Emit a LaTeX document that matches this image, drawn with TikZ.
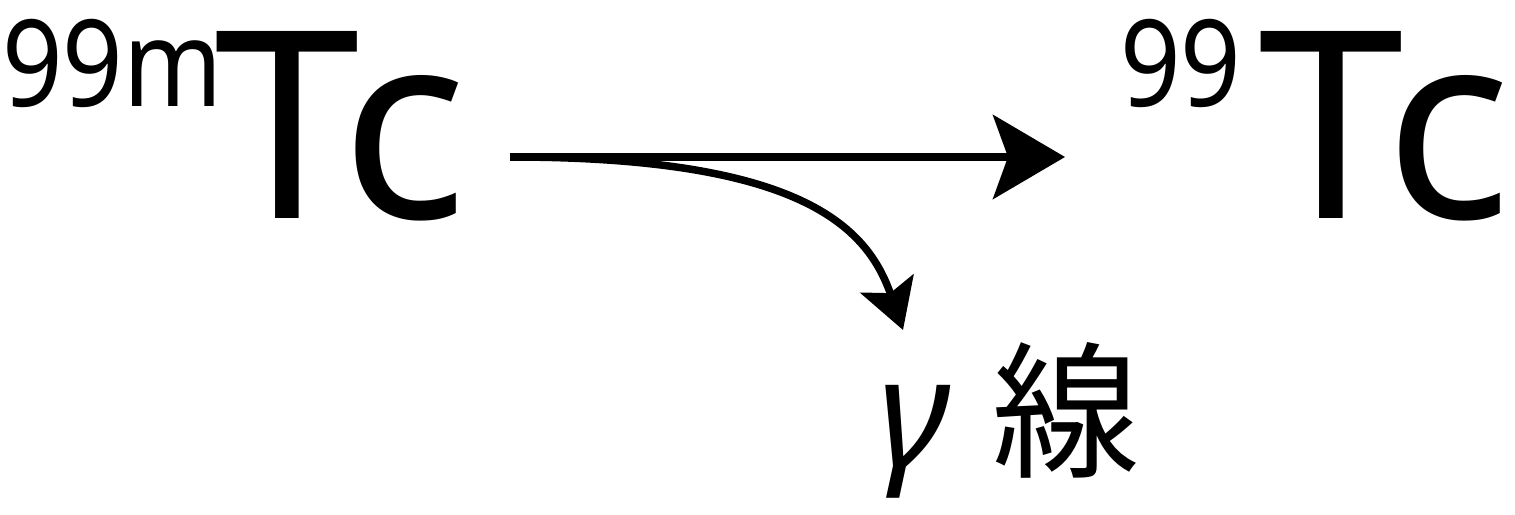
\documentclass[tikz,border=0pt]{standalone}
\usepackage{fontspec}
\setmainfont{Noto Sans}
\newfontfamily\supfont[FakeStretch=0.88]{Noto Sans}
\newfontfamily\cjk{Noto Sans CJK JP}
\usetikzlibrary{arrows.meta}
\tikzset{
  lbl/.style={inner sep=0pt, outer sep=0pt, anchor=base west},
  big/.style={lbl, font=\fontsize{263}{263}\selectfont},
  sup/.style={lbl, font=\fontsize{121}{121}\supfont},
  conn/.style={line width=7.5bp, line cap=butt},
}
\begin{document}
\begin{tikzpicture}[x=1bp,y=1bp]
\useasboundingbox (0,0) rectangle (1515,515);
\node[sup] (supL) at (2,408) {99m};
\node[big] (tcL) at (214,296) {Tc};
\node[sup] (supR) at (1120,408) {99};
\node[big] (tcR) at (1258,296) {Tc};
\node[lbl, font=\fontsize{152}{152}\selectfont] (gam) at (878,48) {\itshape γ};
\node[lbl, font=\fontsize{148}{148}\cjk] (sen) at (992,48) {線};
\coordinate (s) at (510,358);
\coordinate (e) at (1065,358);
\coordinate (g) at (903,185);
\draw[conn, -{Stealth[length=72bp,width=84bp,inset=15bp]}] (s) -- (e);
\draw[conn, -{Stealth[length=49bp,width=56bp,inset=10bp]}] (s) .. controls (800,358) and (867,289) .. (g);
\end{tikzpicture}
\end{document}
